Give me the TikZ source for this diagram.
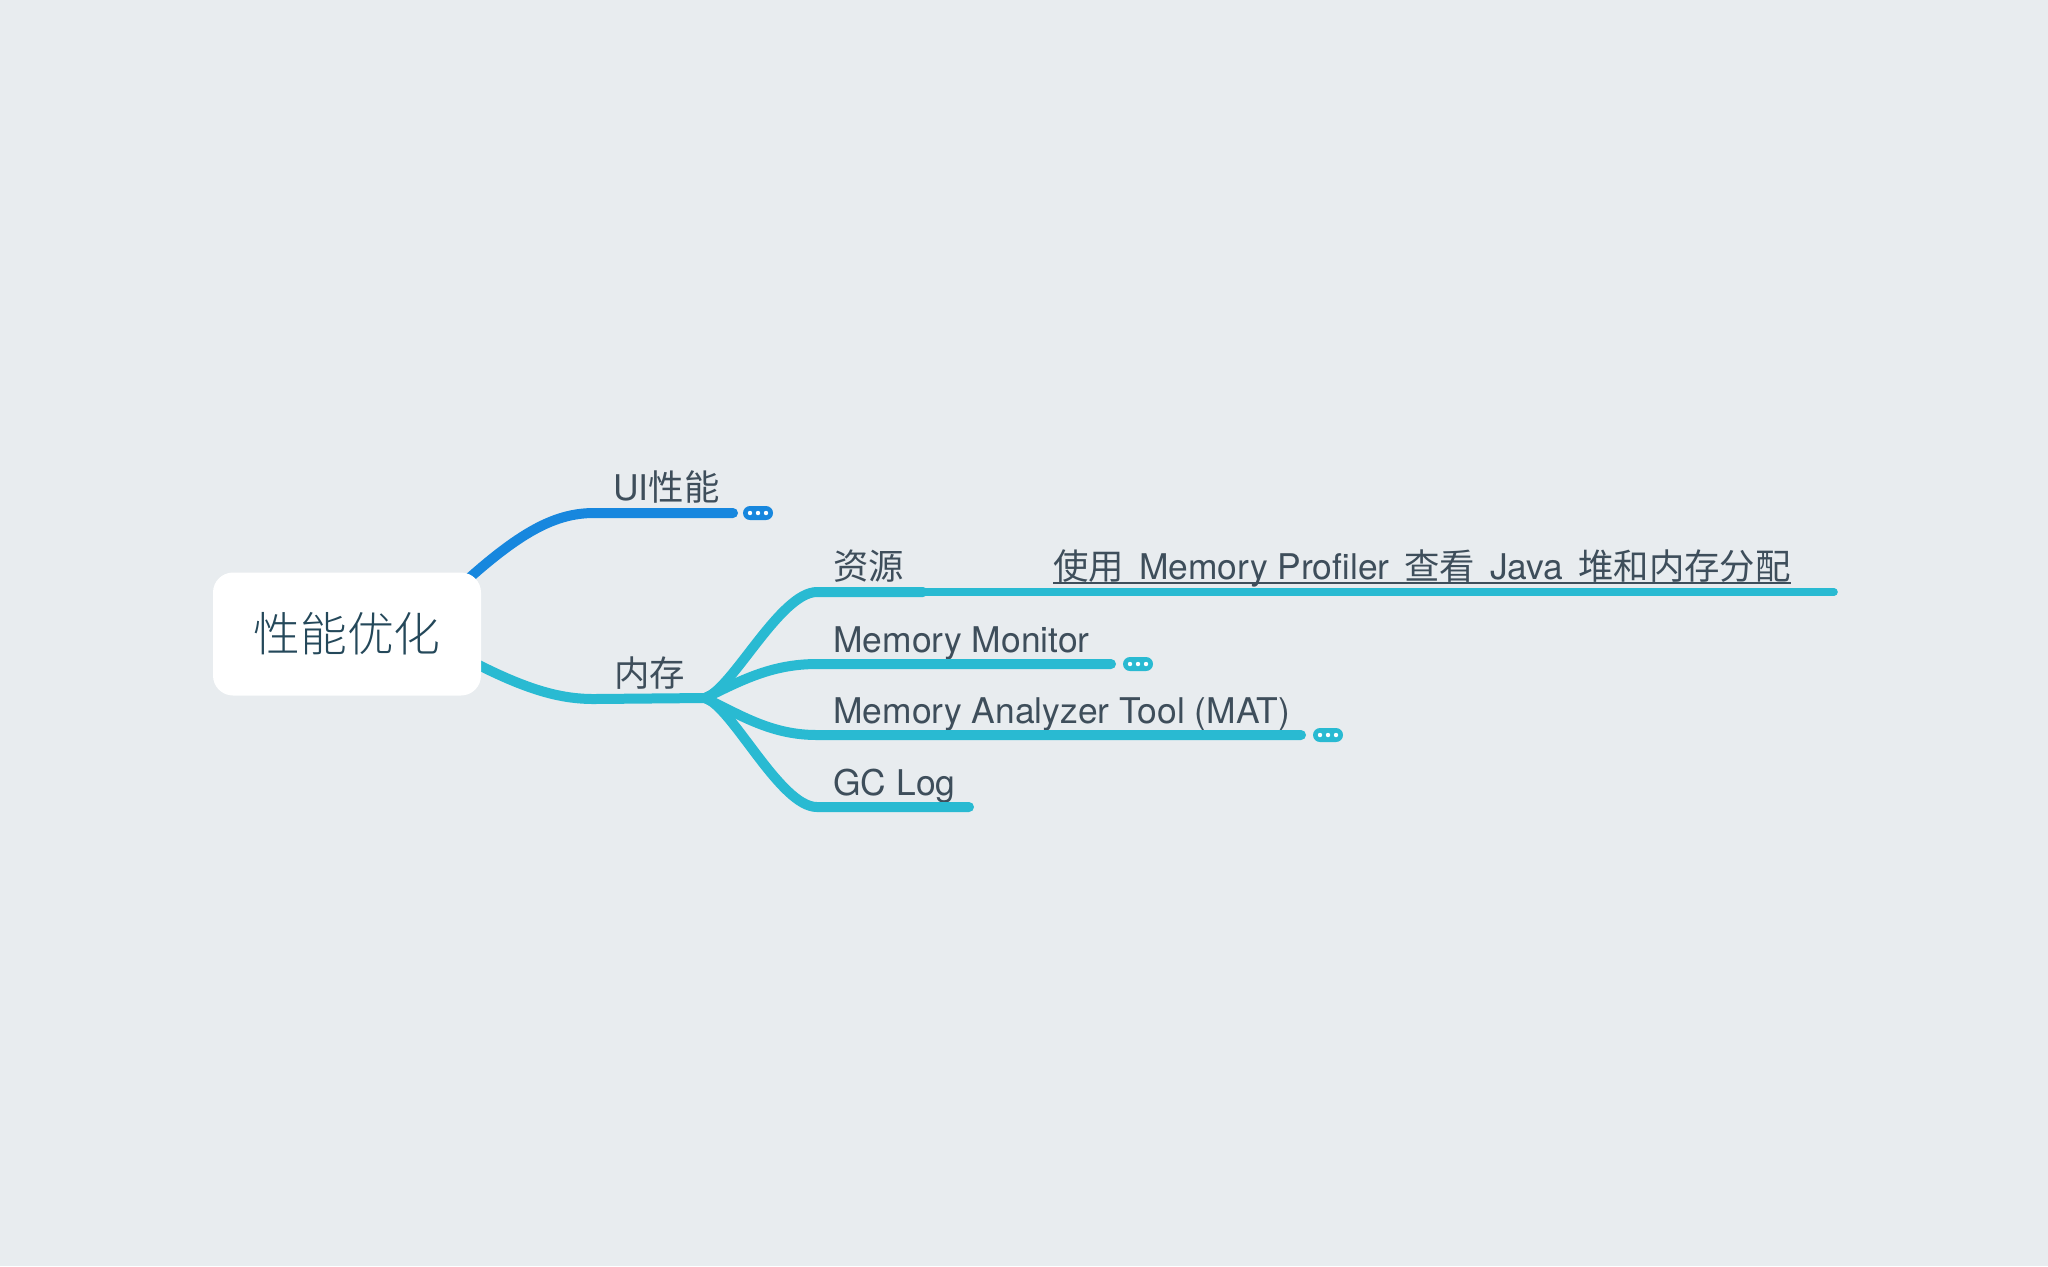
\documentclass[tikz,border=0pt]{standalone}
\usepackage{fontspec}
\setmainfont{TeX Gyre Heros}
\newfontfamily\cjk{Noto Sans CJK SC}
\newfontfamily\cjklight{Noto Sans CJK SC Light}
\usepackage{xcolor}
\usetikzlibrary{positioning}
\definecolor{bgcol}{HTML}{E8ECEF}
\definecolor{uiblue}{HTML}{1787DE}
\definecolor{memcyan}{HTML}{29BAD2}
\definecolor{txtcol}{HTML}{3E4E5B}
\definecolor{roottxt}{HTML}{24485A}
\newcommand{\moredots}[1]{%
  \foreach \dx in {-4pt,0pt,4pt}
    \fill[white] ([xshift=\dx]#1.center) circle (1.1pt);}
\newcommand{\cjksp}{\hspace{0.42em}}
\pgfdeclarelayer{back}
\pgfsetlayers{back,main}

\begin{document}
\begin{tikzpicture}[x=0.5pt,y=-0.5pt,
  root/.style={fill=white,rounded corners=10pt,minimum width=134pt,
    minimum height=61.5pt,text=roottxt,font=\fontsize{23.4}{26}\selectfont},
  topic/.style={anchor=base west,inner sep=0pt,text=txtcol,
    font=\fontsize{17.7}{20}\selectfont},
  branch/.style={line width=5pt,line cap=round},
  pill/.style={rounded corners=3.5pt,minimum width=15pt,minimum height=7pt,inner sep=0pt}]
  \useasboundingbox (0,0) rectangle (2048,1266);
  \node[root] (perf) at (347,634) {{\cjklight 性能优化}};
  \node[topic] (ui) at (613,500) {UI{\cjk 性能}};
  \node[topic] (mem) at (614,686) {{\cjk 内存}};
  \node[topic] (res) at (833,579) {{\cjk 资源}};
  \node[topic] (mon) at (833,652) {Memory Monitor};
  \node[topic] (mat) at (833,723) {Memory Analyzer Tool (MAT)};
  \node[topic] (gc) at (833,795) {GC Log};
  \node[topic] (prof) at (1053,579) {{\cjk 使用}\cjksp Memory Profiler\cjksp{\cjk 查看}\cjksp Java\cjksp{\cjk 堆和内存分配}};
  \coordinate (uiStart) at ([xshift=-16pt,yshift=-12pt]perf.north east);
  \coordinate (memStart) at ([xshift=-10pt,yshift=-11pt]perf.east);
  \coordinate (fork) at (705,698);
  \coordinate (uiEnd) at (733,513);
  \coordinate (resEnd) at (923,592);
  \coordinate (profEnd) at (1834,592);
  \coordinate (monEnd) at (1111,664);
  \coordinate (matEnd) at (1301,735);
  \coordinate (gcEnd) at (969,807);
  \begin{pgfonlayer}{back}
  \fill[bgcol] (0,0) rectangle (2048,1266);
  \draw[branch,uiblue] (uiStart) .. controls (515,535) and (552,513) .. (594,513) -- (uiEnd);
  \draw[branch,memcyan] (memStart) .. controls (525,690) and (560,699) .. (594,699) -- (fork);
  \end{pgfonlayer}
  \draw[branch,memcyan] (fork) .. controls (732,690) and (780,592) .. (817,592) -- (resEnd);
  \draw[branch,memcyan] (fork) .. controls (742,680) and (772,664) .. (817,664) -- (monEnd);
  \draw[branch,memcyan] (fork) .. controls (742,716) and (772,735) .. (817,735) -- (matEnd);
  \draw[branch,memcyan] (fork) .. controls (732,706) and (780,807) .. (817,807) -- (gcEnd);
  \draw[line width=3.8pt,line cap=round,memcyan] (resEnd) -- (profEnd);
  \draw[line width=1pt,txtcol] ([yshift=-2pt]prof.base west) -- ([yshift=-2pt]prof.base east);
  \node[pill,fill=uiblue] (uiMore) at (758,513) {};
  \node[pill,fill=memcyan] (monMore) at (1138,664) {};
  \node[pill,fill=memcyan] (matMore) at (1328,735) {};
  \moredots{uiMore}
  \moredots{monMore}
  \moredots{matMore}
\end{tikzpicture}
\end{document}
